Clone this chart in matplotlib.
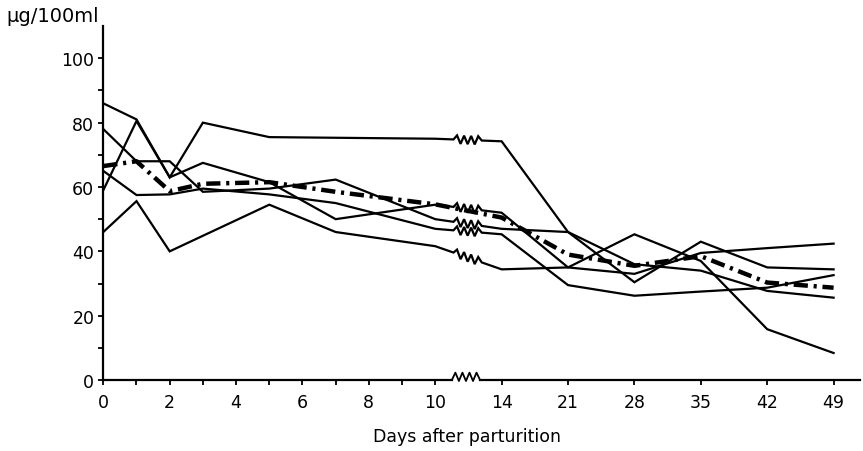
import matplotlib
matplotlib.use("Agg")
import matplotlib.pyplot as plt
import numpy as np

# ---- data (µg/100ml vs days after parturition) ----
line1_days = [0, 1, 2, 3, 5, 10, 14, 21, 28, 35, 42, 49]
line1_vals = [86, 81, 63, 80, 75.5, 75, 74.2, 46, 30.4, 43, 35, 34.4]

line2_days = [0, 1, 2, 3, 5, 7, 10, 14, 21, 28, 35, 42, 49]
line2_vals = [59, 80.5, 63, 67.5, 61.5, 50, 54.5, 52, 35, 33, 39.5, 41, 42.4]

line3_days = [0, 1, 2, 3, 5, 7, 10, 14, 21, 28, 35, 42, 49]
line3_vals = [78, 68, 68, 58.5, 59.5, 62.3, 50, 47, 46, 36, 34, 27.7, 25.6]

line4_days = [0, 1, 2, 3, 5, 7, 10, 14, 21, 28, 35, 42, 49]
line4_vals = [65, 57.5, 57.7, 59.5, 57.7, 55, 47, 45.3, 29.5, 26.2, 27.5, 28.7, 32.6]

line5_days = [0, 1, 2, 5, 7, 10, 14, 21, 28, 35, 42, 49]
line5_vals = [46, 55.6, 40, 54.5, 46, 41.6, 34.4, 35, 45.3, 37, 15.8, 8.4]

mean_days = [0, 1, 2, 3, 5, 7, 10, 14, 21, 28, 35, 42, 49]
mean_vals = [66.5, 68, 58.7, 61, 61.5, 58.5, 54.6, 50.5, 39, 35.5, 38.5, 30.3, 28.7]

tick_days = [0, 2, 4, 6, 8, 10, 14, 21, 28, 35, 42, 49]
minor_days = [1, 3, 5, 7, 9]

BRK0, BRK1 = 10.55, 11.4   # where the scale break zigzag sits


def to_pos(days):
    # days 0-10 are linear, after the break one week = 2 units
    d = np.asarray(days, dtype=float)
    return np.where(d <= 10, d, 12 + (d - 14) / 3.5)


def zigzag(x0, x1, base, amp, teeth=4):
    xs = np.linspace(x0, x1, 2 * teeth + 1)
    sign = np.array([0] + [1 if i % 2 == 0 else -1 for i in range(2 * teeth - 1)] + [0])
    return xs, base + amp * sign


def draw_broken(ax, days, vals, **kw):
    p = to_pos(days)
    v = np.asarray(vals, dtype=float)
    xz, yz = zigzag(BRK0, BRK1, np.interp(np.linspace(BRK0, BRK1, 9), p, v), 1.3)
    xs = np.concatenate([p[p <= 10], xz, p[p >= 12]])
    ys = np.concatenate([v[p <= 10], yz, v[p >= 12]])
    ax.plot(xs, ys, **kw)


fig = plt.figure(figsize=(8.63, 4.52), dpi=100)
ax = fig.add_axes([0.1197, 0.157, 0.877, 0.783])

solid = dict(color="black", lw=1.6, solid_joinstyle="miter")
for dd, vv in [(line1_days, line1_vals), (line2_days, line2_vals),
               (line3_days, line3_vals), (line4_days, line4_vals),
               (line5_days, line5_vals)]:
    draw_broken(ax, dd, vv, **solid)

ax.plot(to_pos(mean_days), mean_vals, color="black", lw=3.2,
        linestyle=(0, (3.2, 1.3, 0.7, 1.3)))

ax.set_xlim(0, 22.8)
ax.set_ylim(0, 110)

# axes look
for s in ["top", "right", "bottom"]:
    ax.spines[s].set_visible(False)
ax.spines["left"].set_linewidth(1.6)

# x axis drawn by hand so it can carry the break mark
xz, yz = zigzag(BRK0 - 0.05, BRK1 - 0.05, 1.0, 1.3)
ax.plot([0, BRK0 - 0.05], [0, 0], color="black", lw=1.6, clip_on=False)
ax.plot(xz, np.where(np.arange(len(xz)) % (len(xz) - 1) == 0, 0, yz),
        color="black", lw=1.3, clip_on=False)
ax.plot([BRK1 - 0.05, 22.8], [0, 0], color="black", lw=1.6, clip_on=False)

ax.set_xticks(to_pos(tick_days))
ax.set_xticklabels([str(d) for d in tick_days])
ax.set_xticks(to_pos(minor_days), minor=True)
ax.set_yticks([0, 20, 40, 60, 80, 100])
ax.set_yticks([10, 30, 50, 70, 90], minor=True)

ax.tick_params(axis="x", which="both", direction="out", length=3.5, width=1.3,
               pad=6, labelsize=12.5)
ax.tick_params(axis="y", which="both", direction="out", length=3.5, width=1.3,
               pad=3, labelsize=12.5)

fig.text(467 / 863, 1 - 437 / 452, "Days after parturition", ha="center",
         va="center", fontsize=12.5)
fig.text(6 / 863, 1 - 17 / 452, "µg/100ml", ha="left", va="center",
         fontsize=14)

fig.savefig("out.png", dpi=100, facecolor="white")
